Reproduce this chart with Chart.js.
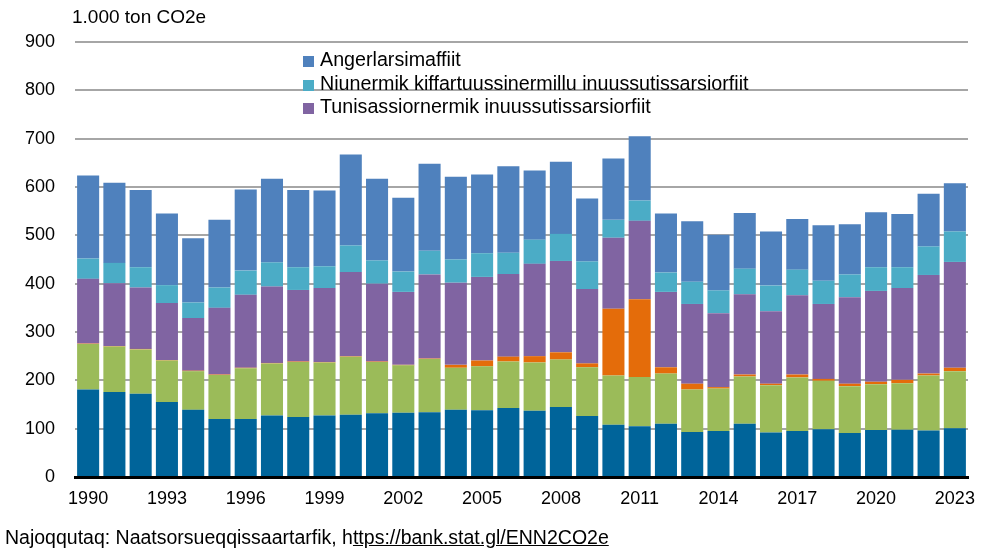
<!DOCTYPE html>
<html>
<head>
<meta charset="utf-8">
<script src="https://cdn.jsdelivr.net/npm/chart.js@4.4.1/dist/chart.umd.min.js"></script>
<style>
  body { margin: 0; background: #fff; font-family: "Liberation Sans", Arial, sans-serif; color: #000; }
  #wrap { position: relative; width: 989px; height: 552px; }
  #unit { position: absolute; left: 72px; top: 6px; font-size: 19px; }
  #legend { position: absolute; left: 303px; top: 48px; font-size: 19.7px; }
  #legend div { height: 23.7px; line-height: 23.7px; white-space: nowrap; }
  #legend span.box { display: inline-block; width: 11px; height: 11px; margin-right: 6px; vertical-align: -1px; }
  #source { position: absolute; left: 5px; top: 526px; font-size: 19.5px; white-space: nowrap; }
  #source u { text-decoration: underline; }
</style>
</head>
<body>
<div id="wrap">
  <canvas id="myChart" width="989" height="552"></canvas>
  <div id="unit">1.000 ton CO2e</div>
  <div id="legend"></div>
  <div id="source">Najoqqutaq: Naatsorsueqqissaartarfik, h<u>ttps://bank.stat.gl/ENN2CO2e</u></div>
</div>
<script>
// years on the x axis
var years = ['1990', '1991', '1992', '1993', '1994', '1995', '1996', '1997', '1998', '1999',
    '2000', '2001', '2002', '2003', '2004', '2005', '2006', '2007', '2008', '2009',
    '2010', '2011', '2012', '2013', '2014', '2015', '2016', '2017', '2018', '2019',
    '2020', '2021', '2022', '2023'];

// stacked from the bottom up
var energy = [181, 176, 172, 155, 139, 120, 120, 127, 124, 127, 129, 132, 133, 134, 139, 138, 143, 137, 145, 126,
    108, 105, 110, 93, 95, 110, 92, 95, 99, 91, 97, 98, 96, 101];
var transport = [94, 94, 92, 86, 80, 91, 105, 108, 114, 110, 120, 106, 98, 110, 87, 91, 96, 100, 98, 101,
    102, 102, 104, 88, 88, 98, 98, 111, 100, 97, 95, 96, 114, 118];
var exploration = [1, 1, 1, 1, 1, 1, 1, 1, 1, 1, 1, 1, 1, 1, 6, 12, 10, 13, 15, 8,
    138, 161, 13, 12, 3, 4, 3, 6, 4, 5, 5, 7, 4, 7];
var production = [134, 130, 127, 118, 109, 138, 151, 158, 148, 153, 174, 161, 151, 174, 170, 173, 171, 191, 189, 154,
    147, 162, 156, 165, 153, 166, 150, 164, 155, 179, 188, 190, 204, 219];
var services = [42, 42, 42, 37, 32, 42, 50, 50, 47, 45, 55, 48, 42, 49, 48, 49, 44, 50, 56, 57,
    37, 42, 40, 46, 47, 53, 53, 53, 48, 47, 49, 43, 59, 63];
var households = [172, 166, 160, 148, 133, 140, 168, 173, 160, 157, 188, 169, 153, 180, 171, 163, 179, 143, 149, 130,
    127, 133, 122, 125, 115, 115, 112, 105, 115, 104, 114, 110, 109, 100];

var yTicks = [0, 100, 200, 300, 400, 500, 600, 700, 800, 900];

var legendItems = [
    ['Angerlarsimaffiit', '#4F81BD'],
    ['Niunermik kiffartuussinermillu inuussutissarsiorfiit', '#4BACC6'],
    ['Tunisassiornermik inuussutissarsiorfiit', '#8064A2']
];

document.addEventListener('DOMContentLoaded', function () {
    var legend = document.getElementById('legend');
    legendItems.forEach(function (item) {
        var row = document.createElement('div');
        row.innerHTML = '<span class="box" style="background:' + item[1] + '"></span>' + item[0];
        legend.appendChild(row);
    });

    var font = { family: '"Liberation Sans", Arial, sans-serif', size: 18 };

    function bar(label, data, color) {
        return {
            label: label,
            data: data,
            backgroundColor: color,
            borderWidth: 0,
            categoryPercentage: 1,
            barPercentage: 0.84
        };
    }

    var ctx = document.getElementById('myChart').getContext('2d');
    new Chart(ctx, {
        type: 'bar',
        data: {
            labels: years,
            datasets: [
                bar('Energy', energy, '#00649A'),
                bar('Transport', transport, '#9BBB59'),
                bar('Exploration', exploration, '#E46C0A'),
                bar('Tunisassiornermik inuussutissarsiorfiit', production, '#8064A2'),
                bar('Niunermik kiffartuussinermillu inuussutissarsiorfiit', services, '#4BACC6'),
                bar('Angerlarsimaffiit', households, '#4F81BD')
            ]
        },
        options: {
            responsive: false,
            animation: false,
            layout: { padding: { top: 42, right: 21, bottom: 40, left: 0 } },
            plugins: {
                legend: { display: false },
                tooltip: { enabled: false }
            },
            scales: {
                x: {
                    stacked: true,
                    grid: { display: false, drawTicks: false },
                    border: { display: true, color: '#000', width: 3 },
                    ticks: {
                        color: '#000',
                        font: font,
                        padding: 11,
                        autoSkip: false,
                        maxRotation: 0,
                        callback: function (value, index) {
                            return index % 3 === 0 ? years[index] : '';
                        }
                    },
                    afterFit: function (scale) { scale.height = 35; }
                },
                y: {
                    stacked: true,
                    min: yTicks[0],
                    max: yTicks[yTicks.length - 1],
                    grid: { color: '#A6A6A6', lineWidth: 2, drawTicks: false },
                    border: { display: false },
                    ticks: { color: '#000', font: font, padding: 20, stepSize: 100 },
                    afterFit: function (scale) { scale.width = 75; }
                }
            }
        }
    });
});
</script>
</body>
</html>
